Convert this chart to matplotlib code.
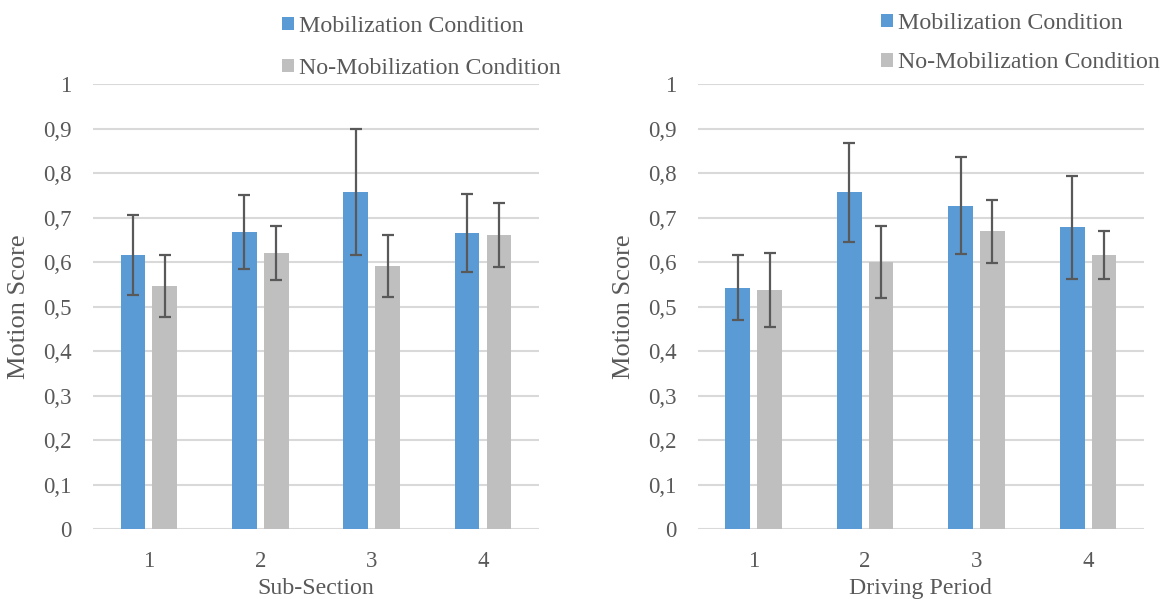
import matplotlib
matplotlib.use("Agg")
import matplotlib.pyplot as plt
import numpy as np

# data
categories = ["1", "2", "3", "4"]
series_names = ["Mobilization Condition", "No-Mobilization Condition"]

sub_mob = [0.616, 0.667, 0.758, 0.665]
sub_mob_err = [0.090, 0.083, 0.142, 0.088]
sub_nomob = [0.547, 0.621, 0.592, 0.661]
sub_nomob_err = [0.070, 0.061, 0.070, 0.073]

drv_mob = [0.543, 0.757, 0.727, 0.678]
drv_mob_err = [0.074, 0.112, 0.109, 0.115]
drv_nomob = [0.537, 0.600, 0.669, 0.617]
drv_nomob_err = [0.083, 0.081, 0.070, 0.054]

BLUE = "#5B9BD5"
GRAY = "#BFBFBF"
TXT = "#595959"
GRID = "#D9D9D9"

plt.rcParams["font.family"] = ["Liberation Serif", "DejaVu Serif"]
plt.rcParams["font.size"] = 17

fig = plt.figure(figsize=(11.69, 5.99), dpi=100)
ax1 = fig.add_axes([0.0798, 0.1169, 0.381, 0.7424])
ax2 = fig.add_axes([0.5971, 0.1169, 0.3813, 0.7424])


def draw(ax, mob, mob_err, nomob, nomob_err, xlabel, leg_xy, leg_space):
    x = np.arange(1, len(categories) + 1)
    w = 0.222
    gap = 0.063
    ekw = dict(ecolor="#595959", elinewidth=1.6, capsize=4.2, capthick=1.6)
    b1 = ax.bar(x - (w + gap) / 2, mob, w, color=BLUE, yerr=mob_err,
                error_kw=ekw, label=series_names[0], zorder=2)
    b2 = ax.bar(x + (w + gap) / 2, nomob, w, color=GRAY, yerr=nomob_err,
                error_kw=ekw, label=series_names[1], zorder=2)
    ax.set_xlim(0.5, 4.5)
    ax.set_ylim(0, 1)
    ax.set_yticks(np.arange(0, 1.01, 0.1))
    ax.set_yticklabels(["0"] + [f"0,{i}" for i in range(1, 10)] + ["1"],
                       fontsize=16.5)
    ax.set_xticks(x)
    ax.set_xticklabels(categories, fontsize=16.5)
    ax.grid(axis="y", color=GRID, linewidth=1.5, zorder=0)
    ax.set_axisbelow(True)
    for s in ax.spines.values():
        s.set_visible(False)
    ax.tick_params(axis="y", length=0, pad=15.5, colors=TXT)
    ax.tick_params(axis="x", length=0, pad=15.5, colors=TXT)
    ax.set_ylabel("Motion Score", color=TXT, labelpad=9.5, fontsize=19)
    ax.set_xlabel(xlabel, color=TXT, labelpad=4.5, fontsize=17.2)
    ax.legend(handles=[b1, b2], loc="upper left", bbox_to_anchor=leg_xy,
              bbox_transform=fig.transFigure, frameon=False, fontsize=17.2,
              handlelength=0.5, handleheight=0.5, handletextpad=0.2,
              labelspacing=leg_space, borderaxespad=0, borderpad=0,
              labelcolor=TXT)


draw(ax1, sub_mob, sub_mob_err, sub_nomob, sub_nomob_err, "Sub-Section",
     (282 / 1169, 1 - 16 / 599), 0.88)
draw(ax2, drv_mob, drv_mob_err, drv_nomob, drv_nomob_err, "Driving Period",
     (881 / 1169, 1 - 13 / 599), 0.77)

fig.savefig("out.png", dpi=100)
